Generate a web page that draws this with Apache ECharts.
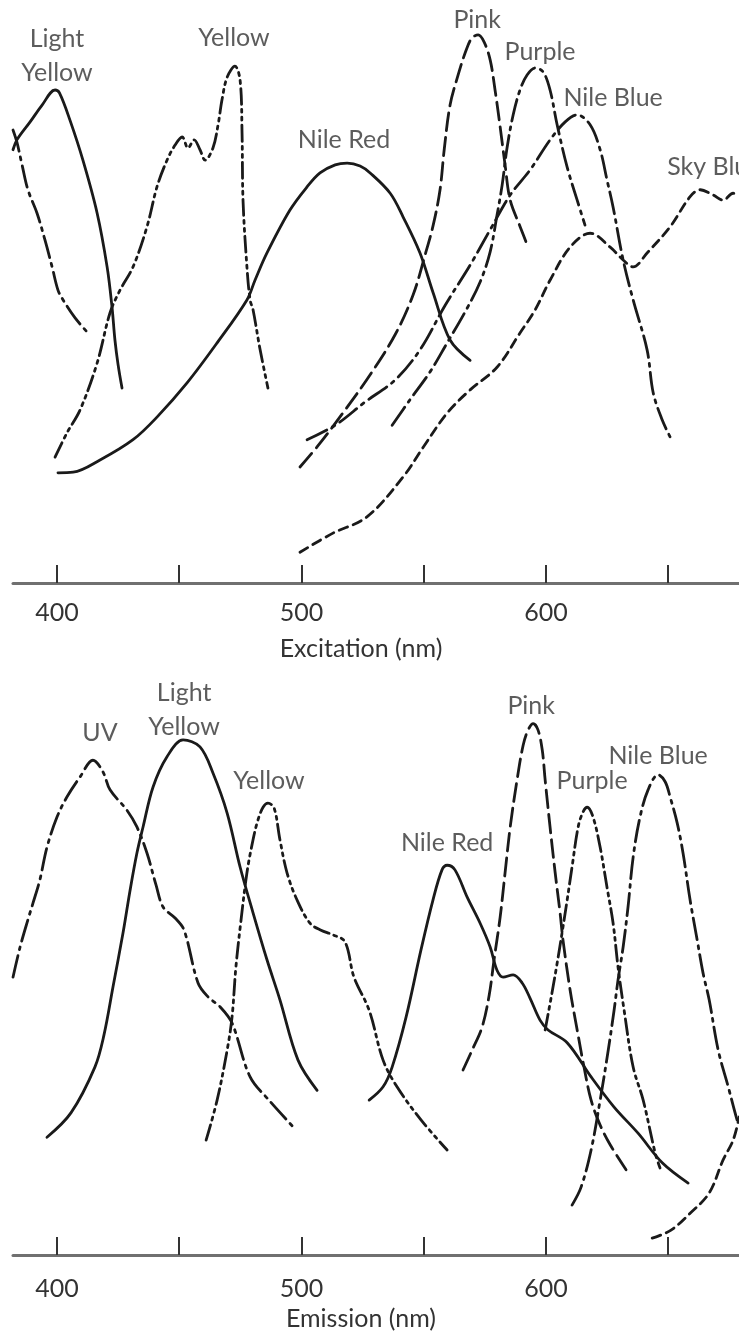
<!DOCTYPE html>
<html>
<head>
<meta charset="utf-8">
<script src="https://cdn.jsdelivr.net/npm/echarts@6/dist/echarts.min.js"></script>
<style>
html,body{margin:0;padding:0;background:#fff;}
#chart{width:739px;height:1333px;}
</style>
</head>
<body>
<div id="chart"></div>
<script>
// ---------- tick labels ----------
const tickValues = [400, 450, 500, 550, 600, 650];
const labelValues = [400, 500, 600];
const topAxisTitle = 'Excitation (nm)';
const bottomAxisTitle = 'Emission (nm)';

// ---------- Excitation spectra [wavelength nm, relative intensity] ----------
const exUV = [[382,78.1],[383.6,76],[385.7,72.1],[388.1,67.8],[391.8,63.8],[395.1,59.1],[398,54.5],[400.4,50.5],[402.5,48.8],[407.4,45.7],[412.7,43.1]];
const exLightYellow = [[382,74.7],[383.6,76.4],[389,79.5],[393.9,82.4],[399.2,85.0],[401,84.5],[405.3,79.8],[410.6,72.9],[416.4,63.8],[420.5,54.5],[422.5,47.6],[423.7,41.9],[425,37.6],[426.6,33.6]];
const exYellow = [[399.2,21.7],[404.1,25.9],[409.4,29.8],[416.4,37.9],[421.7,46.6],[425.8,50.5],[431.1,54.5],[436.8,61.4],[440.9,68.3],[445,72.9],[448.3,75.5],[451.2,76.9],[453.6,75.0],[456.1,76.4],[458.5,74.7],[460.6,72.9],[463.8,75.0],[465.9,79.0],[467.5,83.3],[469.6,87.2],[472.8,89.1],[474.9,86.7],[475.7,77.6],[476.1,66.0],[477.7,54.5],[479,48.8],[480.2,47.1],[483.1,40.2],[486.3,33.6]];
const exNileRed = [[400.4,19.0],[406.6,19.1],[417.6,21.2],[431.1,24.7],[440.9,28.6],[453.2,34.5],[465.5,41.4],[477.7,48.8],[481,52.2],[485.9,56.9],[495.3,64.3],[502.3,68.3],[507.6,70.7],[513.8,72.1],[518.7,72.4],[524,71.9],[528.1,70.7],[536.3,67.2],[541.6,63.1],[548.5,56.9],[553.9,50.0],[560.8,41.9],[569,38.4]];
const exPink = [[499.4,20.0],[507.6,24.1],[517.8,29.8],[528.1,35.9],[538.3,42.8],[545.7,49.7],[550.6,56.6],[553.9,61.7],[556.7,67.8],[558.4,74.7],[560.8,82.4],[564.1,87.6],[567.4,91.9],[569.8,94.0],[572.3,94.5],[574.7,93.3],[577.2,90.2],[579.2,85.0],[581.3,78.6],[583.3,72.1],[585.4,66.0],[589.5,61.4],[592.7,57.9]];
const exPurple = [[537.1,27.2],[544.4,31.6],[552.6,36.4],[559.6,41.4],[566.9,46.7],[573.1,51.9],[577.2,57.1],[580,63.4],[582.1,68.6],[584.1,75.0],[586.6,80.7],[589.4,85.0],[592.3,87.6],[595.6,88.8],[598.9,88.1],[601.7,85.0],[604.6,79.0],[608.7,71.7],[612.8,66.0],[616,61.7]];
const exNileBlue = [[502.3,24.7],[513.8,27.2],[526,31.2],[538.3,35.0],[548.5,40.2],[558.8,47.9],[569,54.8],[577.2,60.9],[585.4,66.9],[593.5,71.2],[601.7,76.4],[607.9,79.5],[612.8,80.7],[618.1,79.0],[622.2,74.7],[625,69.5],[627.5,64.8],[631.6,55.7],[635.7,48.8],[641.4,40.2],[643.9,32.8],[647.6,28.1],[650.8,25.2]];
const exSkyBlue = [[499.4,5.3],[512.9,8.6],[526.8,11.4],[541.6,18.3],[549.8,23.4],[559.6,29.3],[569,33.3],[580,37.2],[589.4,43.1],[595.6,47.1],[601.7,52.2],[609.9,57.9],[618.1,60.3],[626.3,57.9],[631.6,55.7],[635.7,54.5],[641.4,56.9],[650.8,61.4],[659,66.6],[663.1,67.8],[668.4,66.9],[672.5,66.0],[676.6,67.2],[679.1,66.9]];

// ---------- Emission spectra ----------
const emUV = [[382,47.9],[384.9,53.1],[388.1,57.8],[390.2,60.7],[393,64.7],[395.9,70.3],[400,75.5],[404.1,79.0],[409.4,82.4],[414.7,85.3],[418.8,83.3],[421.7,80.2],[428.6,76.7],[432.7,73.8],[436.8,69.3],[440.5,63.8],[443.4,60.0],[448.3,58.1],[452,56.0],[457.7,46.9],[461.8,44.5],[466.7,42.8],[471.6,40.0],[479,30.7],[486.7,26.7],[496.6,22.1]];
const emLightYellow = [[395.9,20.3],[405.7,24.5],[415.5,32.4],[419.2,37.9],[422.9,46.2],[427,55.5],[429.9,62.9],[432.7,69.3],[435.2,73.8],[439.3,80.7],[445,85.9],[451.6,88.8],[458.5,87.6],[463.8,83.1],[469.6,76.2],[474.9,66.9],[480.2,59.0],[485.9,50.9],[491.2,44.0],[498.6,33.6],[506.4,28.4]];
const emYellow = [[461,19.8],[465.5,26.7],[469.6,35.3],[471.6,41.0],[473.2,49.7],[475.3,57.8],[477.7,65.9],[480.2,71.6],[482.2,75.0],[484.3,77.2],[486.3,77.9],[488.8,77.1],[491.2,71.6],[494.1,65.9],[498.2,61.2],[503.5,57.2],[508,56.0],[512.9,55.2],[517.8,54.0],[521.5,47.9],[527.7,42.2],[533.4,33.6],[539.1,29.0],[548.9,23.3],[559.6,18.1]];
const emNileRed = [[527.7,26.7],[533.4,29.0],[537.1,32.4],[542.8,41.0],[548.9,52.6],[553.8,61.2],[557.5,66.4],[559.6,67.2],[562.8,66.4],[567.8,61.7],[573.1,57.2],[577.2,53.1],[580,49.1],[582.5,47.9],[586.6,48.3],[590.3,46.9],[593.5,44.3],[597.6,40.5],[600.9,38.8],[608.7,36.6],[618.5,30.7],[627.9,25.5],[637.7,21.0],[647.6,15.9],[658.2,12.4]];
const emPink = [[566.1,31.9],[569.8,35.3],[573.9,39.3],[576.8,44.8],[578.8,50.9],[581.3,58.3],[583.3,65.9],[585.4,73.8],[588.2,81.9],[590.7,87.9],[592.7,90.5],[594.8,91.6],[596.8,90.5],[598.5,87.1],[599.7,81.9],[601.7,73.8],[603.8,65.9],[605.8,59.0],[607,54.3],[609.9,45.7],[612.8,38.8],[615.6,32.4],[618.5,26.7],[622.2,22.4],[626.3,19.0],[632.8,14.7]];
const emPurple = [[599.7,38.8],[602.5,45.2],[604.6,50.3],[606.6,55.5],[608.7,61.2],[610.7,66.9],[613.2,73.8],[615.2,76.4],[616.9,77.2],[619.3,75.5],[622.2,70.3],[625,63.4],[627.5,57.2],[629.5,49.7],[632,42.2],[635.7,32.4],[639.8,26.7],[644.7,17.6],[646.7,15.0]];
const emNileBlue = [[610.7,8.6],[614.4,11.7],[618.5,18.1],[622.2,26.7],[625.5,35.3],[627.9,42.2],[629.5,47.4],[631.6,53.1],[633.6,60.0],[635.7,68.6],[638.5,75.5],[641.8,80.2],[645.9,82.8],[648.8,81.6],[650.8,79.0],[653.7,74.5],[656.1,69.3],[659,61.2],[661.9,54.3],[664.3,48.6],[666.8,44.0],[670.5,35.3],[674.6,29.0],[678.2,23.3],[679.1,22.4]];
const emSkyBlue = [[643.5,2.9],[651.2,4.3],[659,7.2],[666.8,10.7],[672.5,16.4],[676.6,19.8],[679.1,23.8]];

// ---------- curve labels [wavelength, intensity, text] ----------
const exLabels = [[400.0,90.9,'Light\nYellow'],[472.4,94.0,'Yellow'],[517.4,76.4,'Nile Red'],[571.9,97.1,'Pink'],[597.6,91.6,'Purple'],[627.5,83.6,'Nile Blue'],[649.6,71.7,'Sky Blue']];
const emLabels = [[452.0,94.0,'Light\nYellow'],[417.6,90.0,'UV'],[486.7,81.7,'Yellow'],[594.0,94.7,'Pink'],[645.9,86.0,'Nile Blue'],[618.9,81.7,'Purple'],[559.6,71.0,'Nile Red']];

// ---------- styles ----------
const INK = '#1a1a1a';
const TXT = '#333333';
const FONT = 'Lato';
const dash = {
  solid: 'solid',
  longDash: [18, 7],
  dashDot: [22, 6, 3, 6],
  dashDotDot: [16, 5, 3, 5, 3, 5],
  shortDash: [9, 6]
};

function curve(data, type, idx) {
  return {
    type: 'line', data: data, xAxisIndex: idx, yAxisIndex: idx,
    showSymbol: false, smooth: 0.35, silent: true,
    lineStyle: { color: INK, width: 2.8, type: type, cap: 'round', join: 'round' }
  };
}
function labels(list, idx) {
  return {
    type: 'scatter', xAxisIndex: idx, yAxisIndex: idx, silent: true,
    symbolSize: 1, itemStyle: { color: 'rgba(0,0,0,0)' }, z: 10,
    data: list.map(d => ({
      value: [d[0], d[1]], name: d[2],
      label: d[2] === 'Sky Blue' ? { align: 'left' } : {}
    })),
    label: { show: true, position: 'inside', formatter: '{b}', color: TXT,
      fontFamily: FONT, fontSize: 25, lineHeight: 34 }
  };
}
function xAx(idx, title, gridIndex, labelMargin, nameGap) {
  return {
    type: 'value', gridIndex: gridIndex, min: 382, max: 679,
    axisLine: { show: true, lineStyle: { color: '#707070', width: 3 } },
    axisTick: { show: true, inside: true, length: 18, customValues: tickValues,
      lineStyle: { color: '#333', width: 2 } },
    axisLabel: { show: true, customValues: labelValues, margin: labelMargin,
      color: TXT, fontFamily: FONT, fontSize: 25 },
    splitLine: { show: false },
    name: title, nameLocation: 'middle', nameGap: nameGap,
    nameTextStyle: { color: TXT, fontFamily: FONT, fontSize: 25, padding: [0, 30, 0, 0] }
  };
}
const chart = echarts.init(document.getElementById('chart'), null, { renderer: 'canvas' });
chart.setOption({
  animation: false,
  backgroundColor: '#fff',
  grid: [
    { left: 13, right: 0, top: 3, height: 580 },
    { left: 13, right: 0, top: 675, height: 580 }
  ],
  xAxis: [xAx(0, topAxisTitle, 0, 17, 53), xAx(1, bottomAxisTitle, 1, 21, 51)],
  yAxis: [
    { type: 'value', gridIndex: 0, min: 0, max: 100, show: false },
    { type: 'value', gridIndex: 1, min: 0, max: 100, show: false }
  ],
  series: [
    curve(exUV, dash.dashDot, 0),
    curve(exLightYellow, dash.solid, 0),
    curve(exYellow, dash.dashDotDot, 0),
    curve(exNileRed, dash.solid, 0),
    curve(exPink, dash.longDash, 0),
    curve(exPurple, dash.dashDot, 0),
    curve(exNileBlue, dash.dashDot, 0),
    curve(exSkyBlue, dash.shortDash, 0),
    labels(exLabels, 0),
    curve(emUV, dash.dashDot, 1),
    curve(emLightYellow, dash.solid, 1),
    curve(emYellow, dash.dashDotDot, 1),
    curve(emNileRed, dash.solid, 1),
    curve(emPink, dash.longDash, 1),
    curve(emPurple, dash.dashDotDot, 1),
    curve(emNileBlue, dash.dashDot, 1),
    curve(emSkyBlue, dash.shortDash, 1),
    labels(emLabels, 1)
  ]
});
</script>
</body>
</html>
